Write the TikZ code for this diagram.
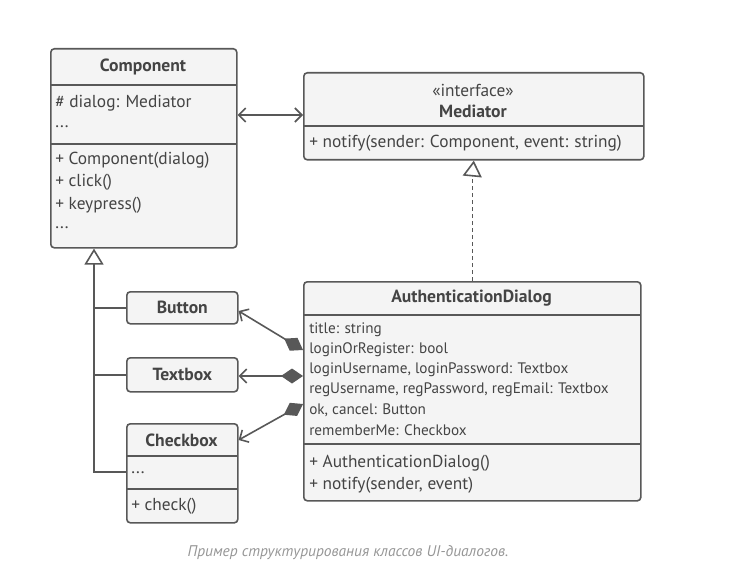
\documentclass[tikz,border=0pt]{standalone}
\usepackage{fontspec}
\setmainfont{PT Sans}
\usetikzlibrary{arrows.meta,positioning}
\definecolor{linec}{RGB}{ 88, 88, 88}
\definecolor{boxfill}{RGB}{244,244,244}
\definecolor{txtc}{RGB}{ 68, 68, 68}
\definecolor{capc}{RGB}{150,150,150}
\newdimen\px \px=0.75pt
\tikzset{
  cls/.style  ={rectangle,draw=linec,fill=boxfill,rounded corners=2.6pt,
                 line width=1.2pt,anchor=north west,inner sep=0pt},
  hdr/.style  ={font=\fontsize{13.2}{15}\selectfont\bfseries,text=txtc,inner sep=0pt},
  mem/.style  ={anchor=west,text=txtc,inner sep=0pt},
  mems/.style ={mem,font=\fontsize{11.4}{13}\selectfont},
  sepl/.style ={draw=linec,line width=1.2pt},
  assoc/.style={line width=1.2pt,draw=linec,
                 {Straight Barb[length=5.25pt,width=10.5pt]}-{Straight Barb[length=5.25pt,width=10.5pt]}},
  inh/.style  ={line width=1.2pt,draw=linec,-{Triangle[open,length=12pt,width=14.25pt,fill=white]}},
  agg/.style  ={line width=1.2pt,draw=linec,
                 {Diamond[length=16.5pt,width=11.25pt,fill=linec]}-{Straight Barb[length=5.25pt,width=10.5pt]}},
}
\begin{document}
\begin{tikzpicture}[x=1\px,y=-1\px,font=\fontsize{13}{15}\selectfont]
  \useasboundingbox (0,0) rectangle (756,588);
  % classes
  \node[cls,minimum width=186\px,minimum height=199\px] (comp) at (50,48) {};
  \node[cls,minimum width=340\px,minimum height=87\px]  (med)  at (303,72) {};
  \node[cls,minimum width=111\px,minimum height=32\px]  (btn)  at (126,291) {};
  \node[cls,minimum width=111\px,minimum height=34\px]  (tbox) at (126,357) {};
  \node[cls,minimum width=111\px,minimum height=99\px]  (cbox) at (126,423) {};
  \node[cls,minimum width=337\px,minimum height=219\px] (auth) at (303,281) {};
  % separators
  \draw[sepl] (50,85) -- (236,85);
  \draw[sepl] (50,144) -- (236,144);
  \draw[sepl] (303,126) -- (643,126);
  \draw[sepl] (126,456) -- (237,456);
  \draw[sepl] (126,489) -- (237,489);
  \draw[sepl] (303,315) -- (640,315);
  \draw[sepl] (303,444) -- (640,444);
  % Component
  \node[hdr] (compT) at (143,67) {Component};
  \node[mem] (c1) at (55,103) {\# dialog: Mediator};
  \node[mem] (c2) at (55,127) {...};
  \node[mem] (c3) at (55,160) {+ Component(dialog)};
  \node[mem] (c4) at (55,182) {+ click()};
  \node[mem] (c5) at (55,205) {+ keypress()};
  \node[mem] (c6) at (55,228) {...};
  % Mediator
  \node[text=txtc,inner sep=0pt] (medS) at (473,90) {«interface»};
  \node[hdr] (medT) at (473,111) {Mediator};
  \node[mem] (m1) at (309,143) {+ notify(sender: Component, event: string)};
  % Button, Textbox, Checkbox
  \node[hdr] at (btn.center)  {Button};
  \node[hdr] at (tbox.center) {Textbox};
  \node[hdr] (cboxT) at (181.5,440) {Checkbox};
  \node[mem] (k1) at (131,473) {...};
  \node[mem] (k2) at (131,506) {+ check()};
  % AuthenticationDialog
  \node[hdr] (authT) at (471.5,298) {AuthenticationDialog};
  \node[mems] (a1) at (309,330) {title: string};
  \node[mems] (a2) at (309,350) {loginOrRegister: bool};
  \node[mems] (a3) at (309,370) {loginUsername, loginPassword: Textbox};
  \node[mems] (a4) at (309,390) {regUsername, regPassword, regEmail: Textbox};
  \node[mems] (a5) at (309,410) {ok, cancel: Button};
  \node[mems] (a6) at (309,430) {rememberMe: Checkbox};
  \node[mem] (a7) at (309,463) {+ AuthenticationDialog()};
  \node[mem] (a8) at (309,485) {+ notify(sender, event)};
  % relations
  \draw[assoc] (comp.east |- 0,115) -- (med.west |- 0,115);
  \draw[line width=1.2pt,draw=linec,dash pattern=on 3pt off 2.25pt]
       (auth.north) -- ++(0,-105) coordinate (dtop);
  \draw[inh] (dtop) -- (med.south);
  \coordinate (trunk) at (94,472);
  \draw[line width=1.2pt,draw=linec] (btn.west) -| (trunk);
  \draw[line width=1.2pt,draw=linec] (tbox.west) -- (tbox.west -| trunk);
  \draw[inh] (cbox.west |- trunk) -| (comp.south -| trunk);
  \draw[agg] (auth.west |- 0,350) -- (btn.east |- 0,311);
  \draw[agg] (auth.west |- 0,376) -- (tbox.east |- 0,376);
  \draw[agg] (auth.west |- 0,404) -- (cbox.east |- 0,440);
  % caption
  \node[text=capc,font=\fontsize{11.6}{13}\selectfont\itshape] (cap) at (348,553)
       {Пример структурирования классов UI-диалогов.};
\end{tikzpicture}
\end{document}
